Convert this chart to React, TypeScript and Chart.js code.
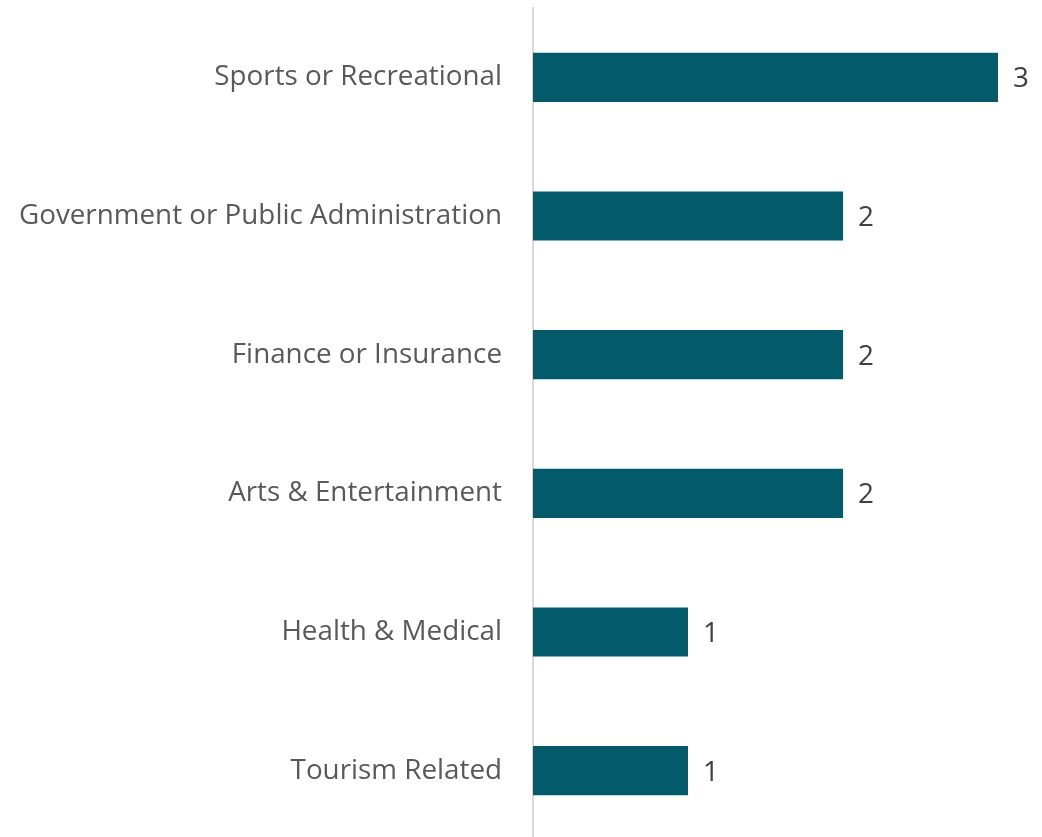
import React, { useEffect, useRef } from "react";
import { Chart, registerables } from "chart.js";

Chart.register(...registerables);

const categories = [
  "Sports or Recreational",
  "Government or Public Administration",
  "Finance or Insurance",
  "Arts & Entertainment",
  "Health & Medical",
  "Tourism Related",
];
const values = [3, 2, 2, 2, 1, 1];

const FONT = "'Open Sans', 'Noto Sans', sans-serif";
const FONT_SIZE = 27.8;

const valueLabels = {
  id: "valueLabels",
  afterDatasetsDraw(chart: any) {
    const ctx = chart.ctx;
    const meta = chart.getDatasetMeta(0);
    ctx.save();
    ctx.font = `${FONT_SIZE}px ${FONT}`;
    ctx.fillStyle = "#404040";
    ctx.textAlign = "left";
    ctx.textBaseline = "middle";
    meta.data.forEach((bar: any, i: number) => {
      ctx.fillText(String(values[i]), bar.x + 15, bar.y + 2);
    });
    ctx.restore();
  },
};

export default function App() {
  const ref = useRef<HTMLCanvasElement>(null);
  useEffect(() => {
    if (!ref.current) return;
    const chart = new Chart(ref.current, {
      type: "bar",
      data: {
        labels: categories,
        datasets: [
          {
            data: values,
            backgroundColor: "#035a6a",
            borderWidth: 0,
            categoryPercentage: 1,
            barPercentage: 0.355,
          },
        ],
      },
      options: {
        indexAxis: "y",
        animation: false,
        responsive: false,
        maintainAspectRatio: false,
        layout: { padding: { top: 8, right: 44, bottom: 0, left: 0 } },
        plugins: {
          legend: { display: false },
          tooltip: { enabled: false },
        },
        scales: {
          x: { display: false, min: 0, max: 3 },
          y: {
            afterFit: (s: any) => {
              s.width = 533;
              s.paddingTop = 0;
              s.paddingBottom = 0;
            },
            grid: { display: false, drawTicks: false },
            border: { display: true, color: "#d9d9d9", width: 2 },
            ticks: {
              padding: 31,
              color: "#595959",
              font: { family: FONT, size: FONT_SIZE },
            },
          },
        },
      },
      plugins: [valueLabels],
    });
    return () => chart.destroy();
  }, []);
  return (
    <div style={{ position: "fixed", left: 0, top: 0, width: 1042, height: 837, overflow: "hidden", background: "#fff" }}>
      <canvas ref={ref} width={1042} height={840} style={{ display: "block" }} />
    </div>
  );
}
